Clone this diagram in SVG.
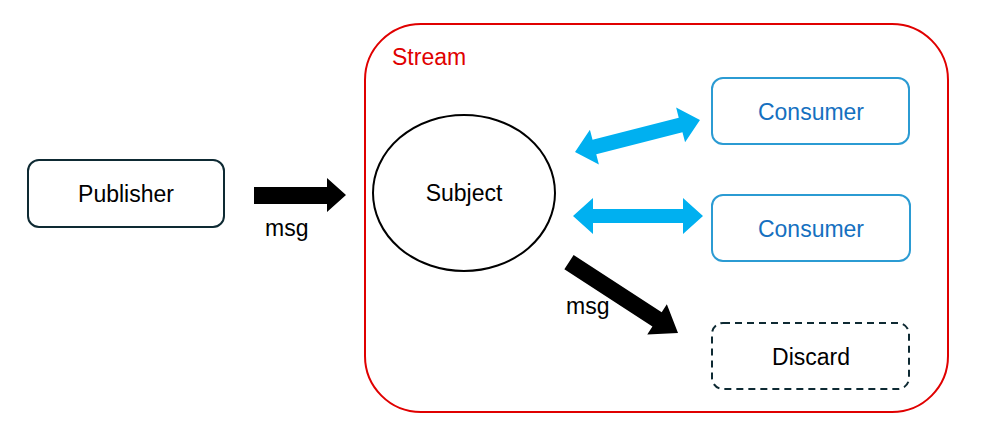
<svg xmlns="http://www.w3.org/2000/svg" width="995" height="448" viewBox="0 0 995 448">
<style>
text{font-family:"Liberation Sans",Arial,sans-serif;font-size:23px;}
.node{fill:#fff;stroke:#0e2a33;stroke-width:2;}
.cons{fill:#fff;stroke:#2b9bd3;stroke-width:2;}
.ct{fill:#1570c0;}
.blk{fill:#000;}
.blue{fill:#00b0f0;}
</style>
<rect width="995" height="448" fill="#fff"/>
<g id="stream">
<rect x="365" y="24" width="583" height="388" rx="56" fill="none" stroke="#e00000" stroke-width="2"/>
<text x="392" y="65" fill="#e00000" font-size="21">Stream</text>
</g>
<g id="publisher">
<rect class="node" x="28" y="160" width="196" height="67" rx="11"/>
<text x="126" y="202" text-anchor="middle">Publisher</text>
</g>
<g id="subject">
<ellipse cx="464" cy="193" rx="91" ry="78" fill="#fff" stroke="#000" stroke-width="2"/>
<text x="464" y="201" text-anchor="middle">Subject</text>
</g>
<g id="consumer1">
<rect class="cons" x="712" y="78" width="197" height="66" rx="11"/>
<text class="ct" x="811" y="120" text-anchor="middle">Consumer</text>
</g>
<g id="consumer2">
<rect class="cons" x="712" y="195" width="198" height="66" rx="11"/>
<text class="ct" x="811" y="237" text-anchor="middle">Consumer</text>
</g>
<g id="discard">
<rect x="712" y="323" width="197" height="66" rx="11" fill="#fff" stroke="#0e2a33" stroke-width="2" stroke-dasharray="7 5"/>
<text x="811" y="365" text-anchor="middle">Discard</text>
</g>
<g id="connectors">
<polygon class="blk" points="254,187 327,187 327,178 346,195 327,212 327,204 254,204"/>
<text x="265" y="236">msg</text>
<g transform="translate(637.5,136) rotate(-14.4)">
<polygon class="blue" points="-64.5,0 -44.5,-18 -44.5,-7.5 44.5,-7.5 44.5,-18 64.5,0 44.5,18 44.5,7.5 -44.5,7.5 -44.5,18"/>
</g>
<g transform="translate(638,216)">
<polygon class="blue" points="-65,0 -45,-18 -45,-7 45,-7 45,-18 65,0 45,18 45,7 -45,7 -45,18"/>
</g>
<g transform="translate(623.5,297.5) rotate(33)">
<polygon class="blk" points="-65,-8.5 40,-8.5 40,-18 65,0 40,18 40,8.5 -65,8.5"/>
</g>
<text x="566" y="314">msg</text>
</g>
</svg>
